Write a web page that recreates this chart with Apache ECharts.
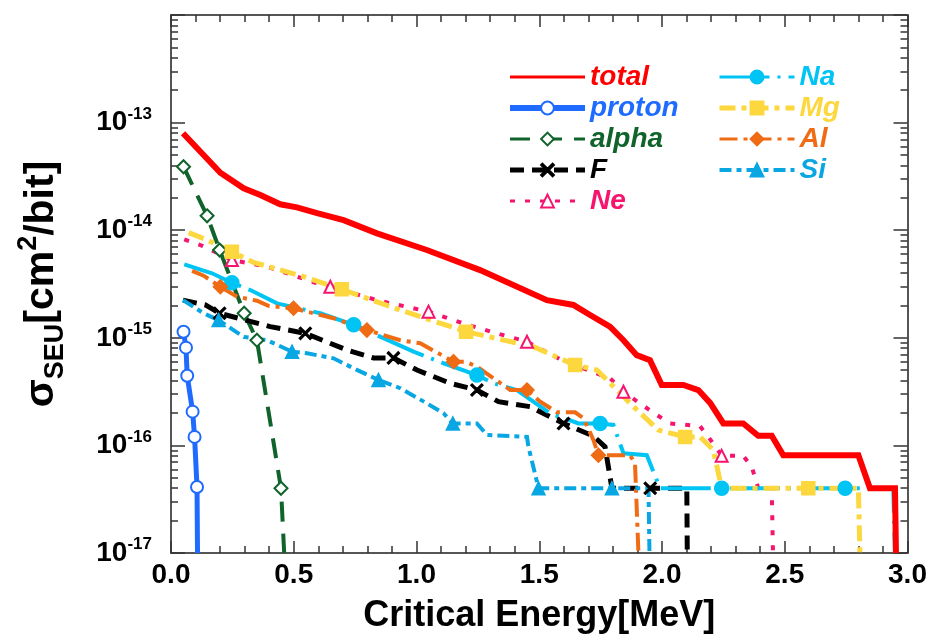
<!DOCTYPE html>
<html>
<head>
<meta charset="utf-8">
<script src="https://cdn.jsdelivr.net/npm/echarts@6/dist/echarts.min.js"></script>
<style>
  html, body { margin: 0; padding: 0; background: #fff; }
  #chart { width: 932px; height: 636px; }
</style>
</head>
<body>
<div id="chart"></div>
<script>
// SEU cross-section (cm^2/bit) versus critical energy (MeV), per ion species.
// Each list holds [energy, sigma] pairs; the *Marks lists pick the points that carry a symbol.

const total = [[0.049,7.96e-14],[0.201,3.42e-14],[0.296,2.45e-14],[0.364,2.12e-14],[0.445,1.74e-14],[0.513,1.63e-14],
  [0.595,1.44e-14],[0.703,1.24e-14],[0.839,9.35e-15],[1.042,6.55e-15],[1.259,4.26e-15],[1.531,2.24e-15],[1.639,2.02e-15],
  [1.707,1.63e-15],[1.788,1.27e-15],[1.843,9.5e-16],[1.897,6.9e-16],[1.951,6.2e-16],[1.999,3.64e-16],[2.087,3.64e-16],
  [2.148,3.27e-16],[2.196,2.48e-16],[2.250,1.6e-16],[2.331,1.6e-16],[2.392,1.23e-16],[2.447,1.23e-16],[2.494,8.1e-17],
  [2.800,8.1e-17],[2.847,4e-17],[2.949,4e-17],[2.953,1e-17]];
const totalMarks = [];

const proton = [[0.051,1.14e-15],[0.061,8.1e-16],[0.066,4.44e-16],[0.088,2.06e-16],[0.096,1.2e-16],[0.106,4.1e-17],[0.108,1e-17]];
const protonMarks = [0,1,2,3,4,5];

const alpha = [[0.051,3.89e-14],[0.147,1.36e-14],[0.198,6.55e-15],[0.298,1.69e-15],[0.350,9.5e-16],[0.448,4e-17],[0.461,1e-17]];
const alphaMarks = [0,1,2,3,4,5];

const fluorine = [[0.049,2.24e-15],[0.140,2.02e-15],[0.198,1.69e-15],[0.404,1.27e-15],[0.547,1.10e-15],[0.717,7.7e-16],
  [0.825,6.5e-16],[0.906,6.5e-16],[1.002,5.02e-16],[1.137,3.78e-16],[1.246,3.27e-16],[1.334,2.55e-16],[1.463,2.29e-16],
  [1.599,1.6e-16],[1.721,1.22e-16],[1.768,9.7e-17],[1.796,4e-17],[1.952,4e-17],[2.101,4e-17],[2.103,1e-17]];
const fluorineMarks = [2,4,7,10,13,17];

const neon = [[0.054,8.2e-15],[0.130,7.13e-15],[0.248,5.28e-15],[0.391,4.58e-15],[0.588,3.25e-15],[0.649,2.98e-15],
  [0.852,2.2e-15],[1.049,1.75e-15],[1.191,1.36e-15],[1.327,1.10e-15],[1.450,9.2e-16],[1.592,6.2e-16],[1.660,5.4e-16],
  [1.789,4.2e-16],[1.843,3.15e-16],[1.968,1.99e-16],[2.033,1.6e-16],[2.155,1.51e-16],[2.209,1.04e-16],[2.243,8e-17],
  [2.331,8e-17],[2.366,6.3e-17],[2.392,4e-17],[2.447,4e-17],[2.452,1e-17]];
const neonMarks = [2,5,7,10,14,19];

const sodium = [[0.054,4.82e-15],[0.167,3.98e-15],[0.248,3.25e-15],[0.323,2.78e-15],[0.432,2.09e-15],[0.608,1.69e-15],
  [0.744,1.32e-15],[0.988,7.43e-16],[1.110,5.8e-16],[1.246,4.5e-16],[1.314,3.78e-16],[1.409,3.27e-16],[1.544,1.99e-16],
  [1.660,1.6e-16],[1.748,1.6e-16],[1.802,1.55e-16],[1.843,8.45e-17],[1.938,8.1e-17],[1.992,4e-17],[2.243,4e-17],
  [2.746,4e-17],[2.942,4e-17],[2.949,1e-17]];
const sodiumMarks = [2,6,9,14,19,20];

const magnesium = [[0.072,9.5e-15],[0.147,8.1e-15],[0.248,6.3e-15],[0.336,5.03e-15],[0.540,3.7e-15],[0.696,2.82e-15],
  [0.934,1.81e-15],[1.202,1.14e-15],[1.476,8.26e-16],[1.646,5.58e-16],[1.735,5.02e-16],[1.884,2.29e-16],[1.985,1.39e-16],
  [2.094,1.2e-16],[2.155,1.2e-16],[2.209,9.06e-17],[2.243,4e-17],[2.596,4e-17],[2.800,4e-17],[2.806,1e-17]];
const magnesiumMarks = [2,5,7,9,13,17];

const aluminium = [[0.086,4.18e-15],[0.133,3.78e-15],[0.201,2.98e-15],[0.269,2.41e-15],[0.350,2.21e-15],[0.397,1.98e-15],
  [0.499,1.88e-15],[0.662,1.52e-15],[0.798,1.18e-15],[0.934,9.5e-16],[1.015,8.9e-16],[1.151,6.0e-16],[1.198,6.0e-16],
  [1.246,5.4e-16],[1.382,3.27e-16],[1.450,3.27e-16],[1.504,2.55e-16],[1.572,2.03e-16],[1.646,2.03e-16],[1.680,1.79e-16],
  [1.721,1.12e-16],[1.741,8.1e-17],[1.870,8.1e-17],[1.890,6.8e-17],[1.904,1e-17]];
const aluminiumMarks = [2,6,8,11,15,21];

const silicon = [[0.049,2.24e-15],[0.133,1.69e-15],[0.194,1.46e-15],[0.296,1.02e-15],[0.391,9.5e-16],[0.493,7.43e-16],
  [0.554,7.18e-16],[0.662,6.45e-16],[0.744,5.2e-16],[0.845,4.06e-16],[0.934,3.4e-16],[1.042,2.46e-16],[1.110,1.99e-16],
  [1.148,1.6e-16],[1.246,1.6e-16],[1.287,1.25e-16],[1.450,1.2e-16],[1.456,9.7e-17],[1.497,4e-17],[1.796,4e-17],
  [1.945,4e-17],[1.949,1e-17]];
const siliconMarks = [2,5,9,13,18,19];

// Axis ranges and tick positions
const energyRange = [0, 3];
const sigmaRange = [1e-17, 1e-12];
const decadeTicks = [1e-17, 1e-16, 1e-15, 1e-14, 1e-13, 1e-12];
const minorSigmaTicks = [];
for (let e = -17; e < -12; e++) {
  for (let k = 2; k <= 9; k++) minorSigmaTicks.push(k * Math.pow(10, e));
}

const FONT = 'Liberation Sans, Arial, Helvetica, sans-serif';
const CROSS = 'path://M0,1L1,0L5,4L9,0L10,1L6,5L10,9L9,10L5,6L1,10L0,9L4,5Z';

function build(name, pts, marks, color, width, dash, symbol, size) {
  return {
    name: name,
    type: 'line',
    xAxisIndex: 0,
    yAxisIndex: 0,
    showAllSymbol: true,
    symbol: symbol,
    symbolSize: size,
    color: color,
    lineStyle: { color: color, width: width, type: dash, cap: 'butt', join: 'miter' },
    itemStyle: { color: color, borderColor: color, borderWidth: 1.5 },
    emphasis: { disabled: true },
    animation: false,
    data: pts.map(function (p, i) {
      return marks.indexOf(i) >= 0 ? { value: p } : { value: p, symbol: 'none' };
    })
  };
}

const colors = {
  total: '#ff0000', proton: '#1f6bff', alpha: '#10632a', F: '#000000', Ne: '#f5156f',
  Na: '#00c4f4', Mg: '#fdd73e', Al: '#ef6b14', Si: '#08a7e3'
};
// stroke widths of the legend samples
const legendWidths = { total: 3, proton: 6, alpha: 3, F: 5, Ne: 3, Na: 3, Mg: 5, Al: 3, Si: 4 };

const series = [
  build('proton', proton, protonMarks, colors.proton, 5, 'solid', 'emptyCircle', 12),
  build('alpha', alpha, alphaMarks, colors.alpha, 4, [20, 12], 'emptyDiamond', 13),
  build('F', fluorine, fluorineMarks, colors.F, 5, [14, 8], CROSS, 12),
  build('Ne', neon, neonMarks, colors.Ne, 4, [5, 10], 'emptyTriangle', 12),
  build('Na', sodium, sodiumMarks, colors.Na, 4, [50, 8, 3, 8], 'circle', 14),
  build('Mg', magnesium, magnesiumMarks, colors.Mg, 5, [16, 6, 5, 6], 'rect', 13),
  build('Al', aluminium, aluminiumMarks, colors.Al, 4, [18, 6, 4, 6], 'diamond', 14),
  build('Si', silicon, siliconMarks, colors.Si, 4, [12, 5, 5, 5], 'triangle', 13),
  build('total', total, totalMarks, colors.total, 6, 'solid', 'circle', 0)
];

const legendText = { fontFamily: FONT, fontSize: 28, fontWeight: 'bold', fontStyle: 'italic', lineHeight: 28 };
function legendItems(names) {
  return names.map(function (n) {
    const item = {
      name: n,
      textStyle: Object.assign({}, legendText, { color: colors[n] }),
      lineStyle: { width: legendWidths[n] }
    };
    if (n === 'total') item.itemStyle = { opacity: 0 };
    return item;
  });
}

const axisLineStyle = { color: '#555', width: 2 };
const tickStyle = { color: '#333', width: 1.5 };

const option = {
  backgroundColor: '#ffffff',
  animation: false,
  grid: { left: 171, right: 24.5, top: 15, bottom: 83, outerBoundsMode: 'none' },
  legend: [
    {
      orient: 'vertical', left: 507, top: 63, padding: 0, itemWidth: 75, itemHeight: 16, itemGap: 3,
      selectedMode: false, textStyle: legendText,
      data: legendItems(['total', 'proton', 'alpha', 'F', 'Ne'])
    },
    {
      orient: 'vertical', left: 717, top: 63, padding: 0, itemWidth: 75, itemHeight: 16, itemGap: 3,
      selectedMode: false, textStyle: legendText,
      data: legendItems(['Na', 'Mg', 'Al', 'Si'])
    }
  ],
  xAxis: [
    {
      type: 'value', position: 'bottom', min: energyRange[0], max: energyRange[1], interval: 0.5,
      name: 'Critical Energy[MeV]', nameLocation: 'middle', nameGap: 45,
      nameTextStyle: { fontFamily: FONT, fontSize: 36, fontWeight: 'bold', color: '#000' },
      axisLine: { lineStyle: axisLineStyle },
      axisTick: { inside: true, length: 12, lineStyle: tickStyle },
      minorTick: { show: true, splitNumber: 5, length: 7, lineStyle: tickStyle },
      axisLabel: {
        fontFamily: FONT, fontSize: 28, fontWeight: 'bold', color: '#000', margin: 8,
        formatter: function (v) { return v.toFixed(1); }
      },
      splitLine: { show: false }
    },
    {
      type: 'value', position: 'top', min: energyRange[0], max: energyRange[1], interval: 0.5,
      axisLine: { lineStyle: axisLineStyle },
      axisTick: { inside: true, length: 12, lineStyle: tickStyle },
      minorTick: { show: true, splitNumber: 5, length: 7, lineStyle: tickStyle },
      axisLabel: { show: false },
      splitLine: { show: false }
    }
  ],
  yAxis: [
    {
      type: 'log', logBase: 10, position: 'left', min: sigmaRange[0], max: sigmaRange[1],
      name: '{g|σ}{sub|SEU}{g|[cm}{sup|2}{g|/bit]}', nameLocation: 'middle', nameRotate: 90, nameGap: 102,
      nameTextStyle: {
        color: '#000',
        rich: {
          g: { fontFamily: FONT, fontSize: 41, fontWeight: 'bold', color: '#000', lineHeight: 54, verticalAlign: 'middle' },
          sub: { fontFamily: FONT, fontSize: 27, fontWeight: 'bold', color: '#000', lineHeight: 27, verticalAlign: 'bottom' },
          sup: { fontFamily: FONT, fontSize: 27, fontWeight: 'bold', color: '#000', lineHeight: 32, verticalAlign: 'top' }
        }
      },
      axisLine: { lineStyle: axisLineStyle },
      axisTick: { inside: true, length: 14, lineStyle: tickStyle, customValues: decadeTicks },
      axisLabel: {
        margin: 19,
        customValues: decadeTicks,
        formatter: function (v) {
          const e = Math.round(Math.log10(v));
          return e >= -12 ? '' : '{b|10}{s|' + e + '}';
        },
        rich: {
          b: { fontFamily: FONT, fontSize: 28, fontWeight: 'bold', color: '#000', lineHeight: 34, verticalAlign: 'middle' },
          s: { fontFamily: FONT, fontSize: 17, fontWeight: 'bold', color: '#000', lineHeight: 20, verticalAlign: 'top' }
        }
      },
      splitLine: { show: false }
    },
    {
      type: 'log', logBase: 10, position: 'left', min: sigmaRange[0], max: sigmaRange[1],
      axisLine: { show: false },
      axisTick: { inside: true, length: 7, lineStyle: tickStyle, customValues: minorSigmaTicks },
      axisLabel: { show: false },
      splitLine: { show: false }
    },
    {
      type: 'log', logBase: 10, position: 'right', min: sigmaRange[0], max: sigmaRange[1],
      axisLine: { lineStyle: axisLineStyle },
      axisTick: { inside: true, length: 14, lineStyle: tickStyle, customValues: decadeTicks },
      axisLabel: { show: false },
      splitLine: { show: false }
    },
    {
      type: 'log', logBase: 10, position: 'right', min: sigmaRange[0], max: sigmaRange[1],
      axisLine: { show: false },
      axisTick: { inside: true, length: 7, lineStyle: tickStyle, customValues: minorSigmaTicks },
      axisLabel: { show: false },
      splitLine: { show: false }
    }
  ],
  series: series
};

const chart = echarts.init(document.getElementById('chart'), null, { renderer: 'canvas' });
chart.setOption(option);
</script>
</body>
</html>
